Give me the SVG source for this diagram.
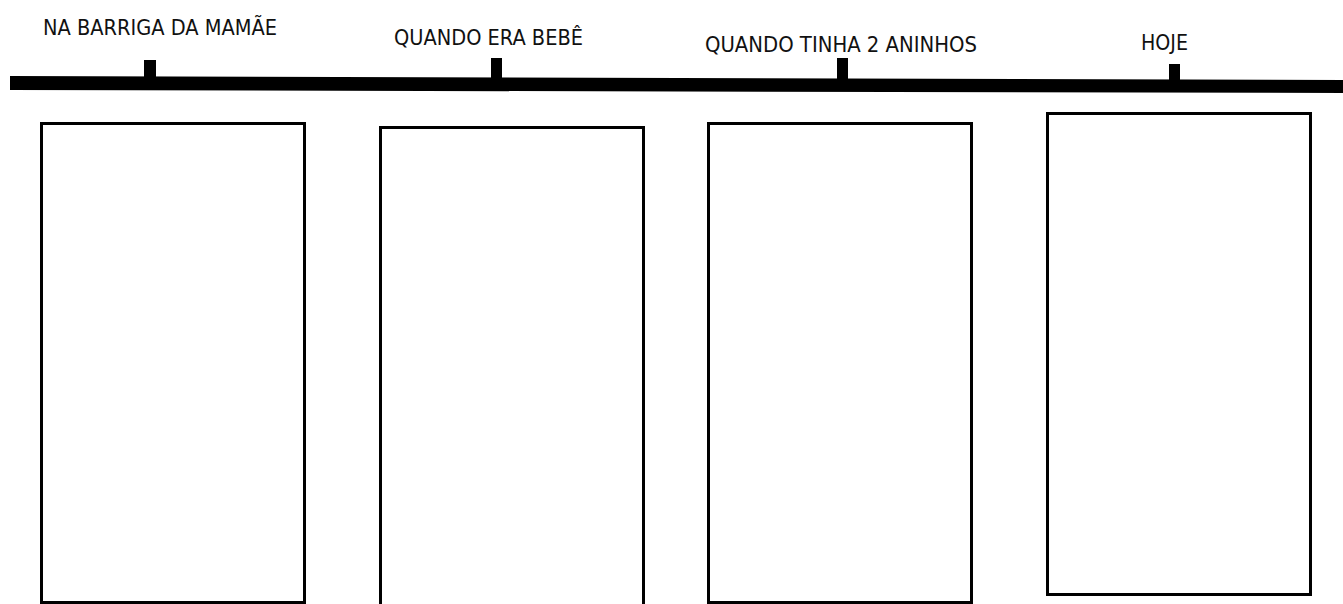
<svg xmlns="http://www.w3.org/2000/svg" width="1343" height="604" viewBox="0 0 1343 604">
<style>
.lbl{font-family:"DejaVu Sans Condensed","DejaVu Sans",sans-serif;font-size:21px;fill:#111;}
.box{fill:#fff;stroke:#000;stroke-width:3;}
.tick{fill:#000;}
</style>
<rect width="1343" height="604" fill="#fff"/>
<g id="connectors">
<polygon points="10,76 1343,80 1343,93 10,90" fill="#000"/>
<rect class="tick" x="144" y="60" width="12" height="20"/>
<rect class="tick" x="491" y="58" width="11" height="22"/>
<rect class="tick" x="837" y="58" width="11" height="23"/>
<rect class="tick" x="1169" y="64" width="11" height="18"/>
</g>
<g id="node1">
<text class="lbl" x="43" y="35" textLength="234" lengthAdjust="spacingAndGlyphs">NA BARRIGA DA MAMÃE</text>
<rect class="box" x="41.5" y="123.5" width="263" height="479"/>
</g>
<g id="node2">
<text class="lbl" x="394" y="45" textLength="189" lengthAdjust="spacingAndGlyphs">QUANDO ERA BEBÊ</text>
<rect class="box" x="380.5" y="127.5" width="263" height="490"/>
</g>
<g id="node3">
<text class="lbl" x="705" y="52" textLength="272" lengthAdjust="spacingAndGlyphs">QUANDO TINHA 2 ANINHOS</text>
<rect class="box" x="708.5" y="123.5" width="263" height="479"/>
</g>
<g id="node4">
<text class="lbl" x="1141" y="50" textLength="47" lengthAdjust="spacingAndGlyphs">HOJE</text>
<rect class="box" x="1047.5" y="113.5" width="263" height="481"/>
</g>
</svg>
